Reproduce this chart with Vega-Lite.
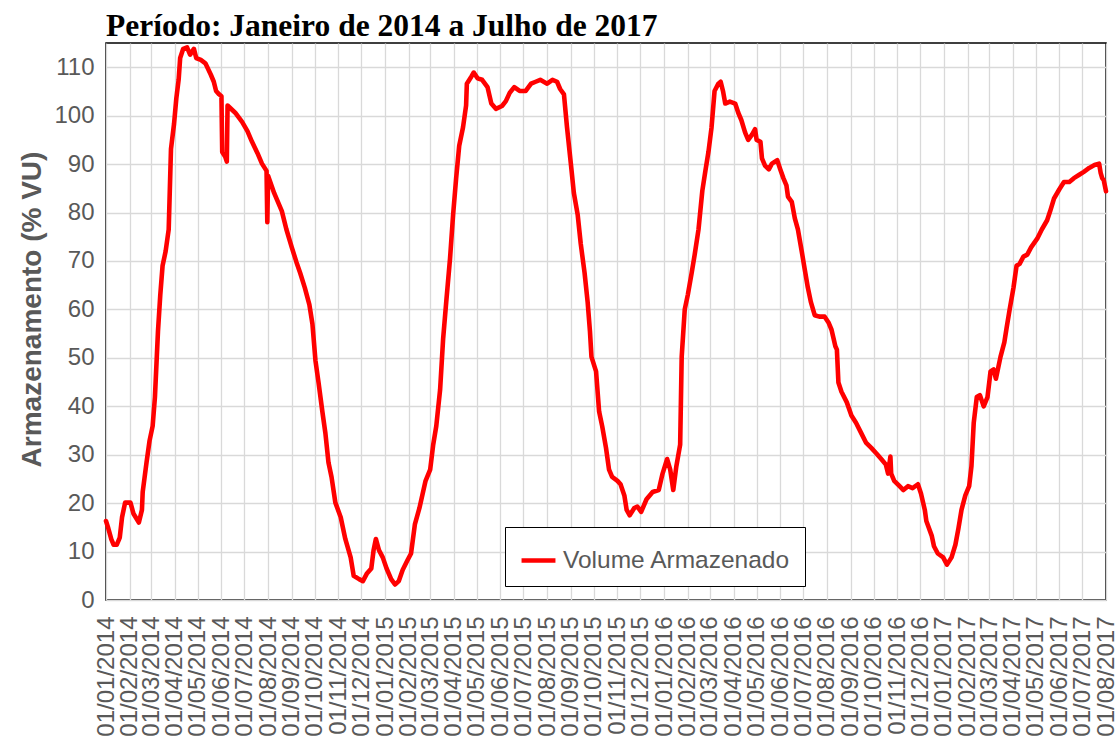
{
  "$schema": "https://vega.github.io/schema/vega-lite/v6.json",
  "width": 1000,
  "height": 557,
  "autosize": {"type": "none"},
  "padding": {"left": 106, "top": 43, "right": 12, "bottom": 145},
  "background": "white",
  "title": {
    "text": "Período: Janeiro de 2014 a Julho de 2017",
    "anchor": "start",
    "frame": "group",
    "font": "Liberation Serif",
    "fontSize": 31.5,
    "fontWeight": "bold",
    "color": "#000000",
    "baseline": "alphabetic",
    "offset": 8,
    "dy": 32
  },
  "config": {
    "view": {"stroke": "#000000", "strokeWidth": 1.5},
    "axis": {"labelFont": "Liberation Sans", "titleFont": "Liberation Sans"}
  },
  "data": {
    "values": [
      {"data": "2014-01-01", "v": 16.3}, {"data": "2014-01-04", "v": 14.8}, {"data": "2014-01-08", "v": 12.5}, {"data": "2014-01-11", "v": 11.4}, {"data": "2014-01-15", "v": 11.4}, {"data": "2014-01-19", "v": 12.9}, {"data": "2014-01-22", "v": 17.1}, {"data": "2014-01-26", "v": 20.1}, {"data": "2014-02-02", "v": 20.1}, {"data": "2014-02-06", "v": 17.8}, {"data": "2014-02-13", "v": 16.0}, {"data": "2014-02-17", "v": 18.6}, {"data": "2014-02-18", "v": 22.3}, {"data": "2014-02-23", "v": 28.4}, {"data": "2014-02-27", "v": 32.9},
      {"data": "2014-03-03", "v": 35.9}, {"data": "2014-03-06", "v": 41.9}, {"data": "2014-03-10", "v": 55.5}, {"data": "2014-03-13", "v": 63.0}, {"data": "2014-03-16", "v": 69.0}, {"data": "2014-03-20", "v": 72.0}, {"data": "2014-03-24", "v": 76.5}, {"data": "2014-03-27", "v": 93.1}, {"data": "2014-03-31", "v": 98.3}, {"data": "2014-04-03", "v": 103.6}, {"data": "2014-04-06", "v": 107.4}, {"data": "2014-04-08", "v": 111.9}, {"data": "2014-04-12", "v": 113.8}, {"data": "2014-04-17", "v": 114.1}, {"data": "2014-04-21", "v": 112.6}, {"data": "2014-04-26", "v": 113.8}, {"data": "2014-04-29", "v": 111.9},
      {"data": "2014-05-05", "v": 111.5}, {"data": "2014-05-11", "v": 110.8}, {"data": "2014-05-18", "v": 108.5}, {"data": "2014-05-22", "v": 107.0}, {"data": "2014-05-25", "v": 105.1}, {"data": "2014-05-29", "v": 104.4}, {"data": "2014-06-01", "v": 104.0}, {"data": "2014-06-02", "v": 92.5}, {"data": "2014-06-06", "v": 91.5}, {"data": "2014-06-08", "v": 90.5}, {"data": "2014-06-09", "v": 102.1}, {"data": "2014-06-19", "v": 100.6}, {"data": "2014-06-28", "v": 98.7}, {"data": "2014-07-05", "v": 96.8}, {"data": "2014-07-11", "v": 94.6}, {"data": "2014-07-18", "v": 92.3}, {"data": "2014-07-24", "v": 90.1}, {"data": "2014-07-30", "v": 88.6}, {"data": "2014-07-31", "v": 78.0}, {"data": "2014-08-01", "v": 87.6},
      {"data": "2014-08-09", "v": 84.0}, {"data": "2014-08-19", "v": 80.3}, {"data": "2014-08-25", "v": 76.5}, {"data": "2014-09-01", "v": 72.8}, {"data": "2014-09-07", "v": 69.8}, {"data": "2014-09-12", "v": 67.5}, {"data": "2014-09-18", "v": 64.5}, {"data": "2014-09-24", "v": 61.0}, {"data": "2014-09-28", "v": 57.0}, {"data": "2014-10-02", "v": 49.4}, {"data": "2014-10-06", "v": 44.9}, {"data": "2014-10-11", "v": 38.9}, {"data": "2014-10-15", "v": 34.4}, {"data": "2014-10-19", "v": 28.4}, {"data": "2014-10-23", "v": 25.4}, {"data": "2014-10-28", "v": 20.1}, {"data": "2014-11-04", "v": 17.1}, {"data": "2014-11-10", "v": 12.6}, {"data": "2014-11-17", "v": 8.8}, {"data": "2014-11-21", "v": 5.0}, {"data": "2014-11-28", "v": 4.3},
      {"data": "2014-12-03", "v": 3.9}, {"data": "2014-12-08", "v": 5.4}, {"data": "2014-12-14", "v": 6.5}, {"data": "2014-12-17", "v": 10.3}, {"data": "2014-12-20", "v": 12.6}, {"data": "2014-12-24", "v": 10.3}, {"data": "2014-12-29", "v": 8.8}, {"data": "2015-01-03", "v": 6.5}, {"data": "2015-01-09", "v": 4.3}, {"data": "2015-01-14", "v": 3.2}, {"data": "2015-01-19", "v": 3.9}, {"data": "2015-01-24", "v": 6.2}, {"data": "2015-01-30", "v": 8.1}, {"data": "2015-02-04", "v": 9.6}, {"data": "2015-02-09", "v": 15.6}, {"data": "2015-02-15", "v": 19.0}, {"data": "2015-02-23", "v": 24.6},
      {"data": "2015-03-01", "v": 26.9}, {"data": "2015-03-05", "v": 32.1}, {"data": "2015-03-09", "v": 35.9}, {"data": "2015-03-14", "v": 43.4}, {"data": "2015-03-18", "v": 54.0}, {"data": "2015-03-22", "v": 61.5}, {"data": "2015-03-27", "v": 70.5}, {"data": "2015-03-31", "v": 79.5}, {"data": "2015-04-04", "v": 87.1}, {"data": "2015-04-08", "v": 93.8}, {"data": "2015-04-13", "v": 97.6}, {"data": "2015-04-17", "v": 102.1}, {"data": "2015-04-18", "v": 106.6}, {"data": "2015-04-24", "v": 108.1}, {"data": "2015-04-27", "v": 108.9},
      {"data": "2015-05-02", "v": 107.7}, {"data": "2015-05-08", "v": 107.4}, {"data": "2015-05-15", "v": 105.9}, {"data": "2015-05-20", "v": 102.5}, {"data": "2015-05-26", "v": 101.4}, {"data": "2015-06-03", "v": 102.0}, {"data": "2015-06-08", "v": 103.0}, {"data": "2015-06-13", "v": 104.7}, {"data": "2015-06-19", "v": 105.9}, {"data": "2015-06-26", "v": 105.1}, {"data": "2015-07-04", "v": 105.1}, {"data": "2015-07-11", "v": 106.6}, {"data": "2015-07-17", "v": 107.0}, {"data": "2015-07-23", "v": 107.4}, {"data": "2015-08-01", "v": 106.6}, {"data": "2015-08-08", "v": 107.4}, {"data": "2015-08-14", "v": 107.0}, {"data": "2015-08-18", "v": 105.5}, {"data": "2015-08-23", "v": 104.4}, {"data": "2015-08-27", "v": 97.6},
      {"data": "2015-09-01", "v": 90.1}, {"data": "2015-09-05", "v": 84.0}, {"data": "2015-09-10", "v": 79.5}, {"data": "2015-09-14", "v": 73.5}, {"data": "2015-09-19", "v": 67.5}, {"data": "2015-09-23", "v": 61.5}, {"data": "2015-09-26", "v": 55.5}, {"data": "2015-09-28", "v": 50.2}, {"data": "2015-10-04", "v": 47.2}, {"data": "2015-10-08", "v": 38.9}, {"data": "2015-10-12", "v": 35.9}, {"data": "2015-10-17", "v": 31.4}, {"data": "2015-10-21", "v": 26.9}, {"data": "2015-10-25", "v": 25.4}, {"data": "2015-11-01", "v": 24.6}, {"data": "2015-11-05", "v": 23.9}, {"data": "2015-11-10", "v": 21.6}, {"data": "2015-11-13", "v": 18.6}, {"data": "2015-11-17", "v": 17.5}, {"data": "2015-11-23", "v": 19.0}, {"data": "2015-11-27", "v": 19.3},
      {"data": "2015-12-02", "v": 18.2}, {"data": "2015-12-09", "v": 20.8}, {"data": "2015-12-17", "v": 22.3}, {"data": "2015-12-25", "v": 22.7}, {"data": "2015-12-30", "v": 26.1}, {"data": "2016-01-05", "v": 29.1}, {"data": "2016-01-09", "v": 26.9}, {"data": "2016-01-13", "v": 22.7}, {"data": "2016-01-17", "v": 27.6}, {"data": "2016-01-22", "v": 32.1}, {"data": "2016-01-24", "v": 50.2}, {"data": "2016-01-28", "v": 60.0}, {"data": "2016-02-01", "v": 63.0}, {"data": "2016-02-06", "v": 67.5}, {"data": "2016-02-10", "v": 71.3}, {"data": "2016-02-15", "v": 76.5}, {"data": "2016-02-20", "v": 84.5}, {"data": "2016-02-24", "v": 88.6}, {"data": "2016-02-28", "v": 92.5},
      {"data": "2016-03-03", "v": 97.5}, {"data": "2016-03-07", "v": 105.1}, {"data": "2016-03-12", "v": 106.6}, {"data": "2016-03-15", "v": 107.0}, {"data": "2016-03-18", "v": 105.1}, {"data": "2016-03-21", "v": 102.5}, {"data": "2016-03-27", "v": 102.9}, {"data": "2016-04-03", "v": 102.5}, {"data": "2016-04-07", "v": 100.6}, {"data": "2016-04-11", "v": 99.1}, {"data": "2016-04-16", "v": 96.5}, {"data": "2016-04-20", "v": 95.0}, {"data": "2016-04-25", "v": 96.1}, {"data": "2016-04-29", "v": 97.2}, {"data": "2016-05-01", "v": 95.0}, {"data": "2016-05-06", "v": 94.6}, {"data": "2016-05-08", "v": 91.2}, {"data": "2016-05-12", "v": 89.7}, {"data": "2016-05-17", "v": 88.9}, {"data": "2016-05-21", "v": 90.1}, {"data": "2016-05-28", "v": 90.8},
      {"data": "2016-06-01", "v": 88.9}, {"data": "2016-06-05", "v": 87.1}, {"data": "2016-06-09", "v": 85.6}, {"data": "2016-06-11", "v": 83.3}, {"data": "2016-06-16", "v": 82.2}, {"data": "2016-06-20", "v": 78.8}, {"data": "2016-06-24", "v": 76.5}, {"data": "2016-06-29", "v": 72.0}, {"data": "2016-07-03", "v": 68.2}, {"data": "2016-07-07", "v": 64.5}, {"data": "2016-07-11", "v": 61.5}, {"data": "2016-07-16", "v": 58.8}, {"data": "2016-07-22", "v": 58.5}, {"data": "2016-07-29", "v": 58.5}, {"data": "2016-08-03", "v": 57.3}, {"data": "2016-08-07", "v": 55.8}, {"data": "2016-08-12", "v": 52.4}, {"data": "2016-08-14", "v": 51.7}, {"data": "2016-08-16", "v": 44.9}, {"data": "2016-08-20", "v": 43.0}, {"data": "2016-08-27", "v": 40.8},
      {"data": "2016-09-02", "v": 38.1}, {"data": "2016-09-08", "v": 36.6}, {"data": "2016-09-15", "v": 34.4}, {"data": "2016-09-21", "v": 32.5}, {"data": "2016-09-28", "v": 31.4}, {"data": "2016-10-05", "v": 30.2}, {"data": "2016-10-11", "v": 29.1}, {"data": "2016-10-17", "v": 28.0}, {"data": "2016-10-20", "v": 26.1}, {"data": "2016-10-23", "v": 29.6}, {"data": "2016-10-24", "v": 26.1}, {"data": "2016-10-28", "v": 24.6}, {"data": "2016-11-04", "v": 23.5}, {"data": "2016-11-09", "v": 22.7}, {"data": "2016-11-15", "v": 23.5}, {"data": "2016-11-21", "v": 23.1}, {"data": "2016-11-28", "v": 23.9},
      {"data": "2016-12-02", "v": 22.0}, {"data": "2016-12-07", "v": 18.6}, {"data": "2016-12-09", "v": 16.3}, {"data": "2016-12-16", "v": 13.3}, {"data": "2016-12-19", "v": 11.1}, {"data": "2016-12-24", "v": 9.6}, {"data": "2016-12-31", "v": 8.8}, {"data": "2017-01-05", "v": 7.3}, {"data": "2017-01-11", "v": 8.8}, {"data": "2017-01-16", "v": 11.4}, {"data": "2017-01-20", "v": 14.8}, {"data": "2017-01-24", "v": 18.6}, {"data": "2017-01-29", "v": 21.6}, {"data": "2017-02-03", "v": 23.5}, {"data": "2017-02-06", "v": 27.6}, {"data": "2017-02-09", "v": 36.6}, {"data": "2017-02-13", "v": 41.9}, {"data": "2017-02-17", "v": 42.3}, {"data": "2017-02-22", "v": 40.0}, {"data": "2017-02-27", "v": 41.9},
      {"data": "2017-03-03", "v": 47.2}, {"data": "2017-03-07", "v": 47.6}, {"data": "2017-03-10", "v": 45.7}, {"data": "2017-03-16", "v": 50.2}, {"data": "2017-03-21", "v": 53.2}, {"data": "2017-03-24", "v": 56.2}, {"data": "2017-03-28", "v": 60.0}, {"data": "2017-04-02", "v": 64.5}, {"data": "2017-04-06", "v": 69.0}, {"data": "2017-04-10", "v": 69.4}, {"data": "2017-04-15", "v": 70.9}, {"data": "2017-04-20", "v": 71.3}, {"data": "2017-04-25", "v": 72.8}, {"data": "2017-05-03", "v": 74.6}, {"data": "2017-05-09", "v": 76.5}, {"data": "2017-05-16", "v": 78.4}, {"data": "2017-05-20", "v": 80.3}, {"data": "2017-05-25", "v": 82.9},
      {"data": "2017-06-01", "v": 84.8}, {"data": "2017-06-07", "v": 86.3}, {"data": "2017-06-14", "v": 86.3}, {"data": "2017-06-20", "v": 87.1}, {"data": "2017-06-27", "v": 87.8}, {"data": "2017-07-03", "v": 88.4}, {"data": "2017-07-10", "v": 89.2}, {"data": "2017-07-17", "v": 89.8}, {"data": "2017-07-23", "v": 90.1}, {"data": "2017-07-25", "v": 88.2}, {"data": "2017-07-27", "v": 87.1}, {"data": "2017-07-29", "v": 86.7}, {"data": "2017-08-01", "v": 84.4}
    ]
  },
  "mark": {"type": "line", "strokeWidth": 4.6, "interpolate": "linear", "strokeJoin": "round", "strokeCap": "round"},
  "encoding": {
    "x": {
      "field": "data",
      "type": "temporal",
      "scale": {"type": "utc", "domain": [{"year": 2014, "month": 1, "date": 1, "utc": true}, {"year": 2017, "month": 8, "date": 1, "utc": true}], "nice": false},
      "axis": {
        "title": null,
        "format": "%d/%m/%Y",
        "tickCount": {"interval": "month", "step": 1},
        "labelAngle": 270,
        "labelAlign": "right",
        "labelBaseline": "middle",
        "labelFontSize": 24,
        "labelColor": "#595959",
        "labelPadding": 16,
        "labelOverlap": false,
        "labelFlush": false,
        "labelBound": false,
        "ticks": false,
        "domain": false,
        "grid": true,
        "gridColor": "#D9D9D9",
        "gridWidth": 1.3
      }
    },
    "y": {
      "field": "v",
      "type": "quantitative",
      "scale": {"domain": [0, 115], "nice": false, "zero": true},
      "axis": {
        "title": "Armazenamento (% VU)",
        "titleFontSize": 28,
        "titleFontWeight": "bold",
        "titleColor": "#595959",
        "titleAngle": -90,
        "titleAlign": "center",
        "titleBaseline": "middle",
        "titleX": -74,
        "titleY": 266,
        "values": [0, 10, 20, 30, 40, 50, 60, 70, 80, 90, 100, 110],
        "labelFontSize": 24,
        "labelColor": "#595959",
        "labelPadding": 12,
        "ticks": false,
        "domain": false,
        "grid": true,
        "gridColor": "#D9D9D9",
        "gridWidth": 1.3
      }
    },
    "color": {
      "datum": "Volume Armazenado",
      "scale": {"range": ["#FF0000"]},
      "legend": {
        "title": null,
        "orient": "none",
        "legendX": 399,
        "legendY": 484,
        "direction": "vertical",
        "strokeColor": "#000000",
        "fillColor": "#FFFFFF",
        "padding": 14,
        "symbolType": "stroke",
        "symbolSize": 1150,
        "symbolStrokeWidth": 4.6,
        "labelFont": "Liberation Sans",
        "labelFontSize": 24.5,
        "labelColor": "#595959",
        "labelOffset": 5,
        "labelLimit": 400
      }
    }
  }
}
